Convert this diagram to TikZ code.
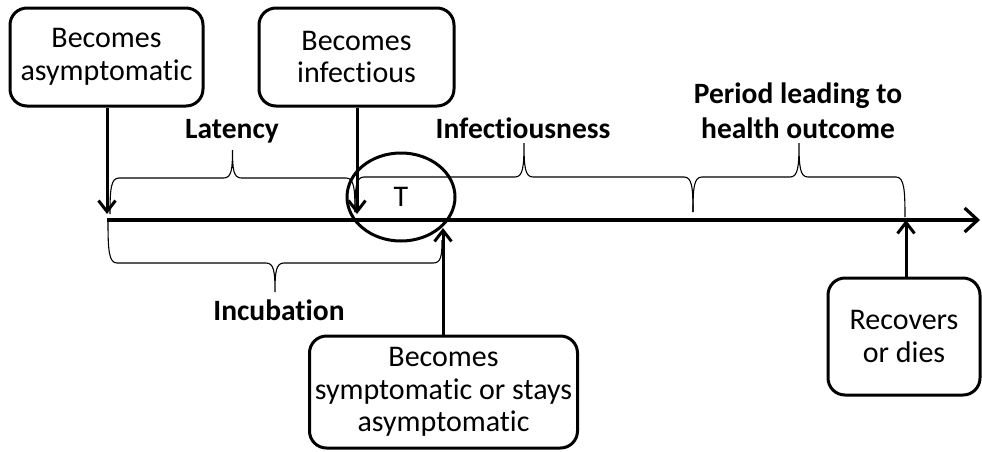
\documentclass[tikz,border=0pt]{standalone}
\usepackage{fontspec}
\setmainfont{Carlito}[RawFeature=-liga]
\usetikzlibrary{arrows.meta,shapes.geometric}

% curly brace: #1 x start, #2 x end, #3 y of the long stroke, #4 y of the tip,
% #5 y of the left end, #6 y of the right end
\newcommand\timebrace[6]{%
  \draw[brace]
    (#1,#5) .. controls (#1,{#3+0.3*(#5-#3)}) and ({#1+1},#3) .. ({#1+9},#3)
    -- ({(#1+#2)/2-9},#3)
    .. controls ({(#1+#2)/2-1},#3) and ({(#1+#2)/2},{#3+0.3*(#4-#3)}) .. ({(#1+#2)/2},#4)
    .. controls ({(#1+#2)/2},{#3+0.3*(#4-#3)}) and ({(#1+#2)/2+1},#3) .. ({(#1+#2)/2+9},#3)
    -- ({#2-9},#3)
    .. controls ({#2-1},#3) and (#2,{#3+0.3*(#6-#3)}) .. (#2,#6);}

\begin{document}
\begin{tikzpicture}[x=1pt,y=-1pt,
  box/.style={draw, line width=3pt, rounded corners=17pt, align=center,
    inner sep=0pt, font=\fontsize{30}{32.5}\selectfont},
  label/.style={font=\fontsize{29.5}{33}\selectfont\bfseries, align=center, inner sep=0pt},
  pointer/.style={line width=3pt, -{Straight Barb[length=11pt,width=17pt,line width=3pt]}},
  brace/.style={line width=1.1pt}]
\useasboundingbox (0,0) rectangle (982,451);

% event boxes
\node[box, minimum width=193pt, minimum height=98pt] (asym) at (106.5,57) {Becomes\\asymptomatic};
\node[box, minimum width=195pt, minimum height=98pt] (infec) at (356.5,57) {Becomes\\infectious};
\node[box, minimum width=268pt, minimum height=112pt] (symp) at (443.5,392) {Becomes\\symptomatic or stays\\asymptomatic};
\node[box, minimum width=152pt, minimum height=117pt] (recov) at (904,336.5) {Recovers\\or dies};

% time axis
\coordinate (t0) at (107,220);
\coordinate (tend) at (980,220);
\draw[line width=4.5pt, -{Straight Barb[length=13pt,width=24pt,line width=3.2pt]}] (t0) -- (tend);

% marker around the moment of transmission
\node[draw, ellipse, line width=3pt, minimum width=108pt, minimum height=88pt,
  font=\fontsize{30}{31}\selectfont] (trans) at (401,197) {T};

% events pointing at the axis
\coordinate (pA) at (107,214);
\coordinate (pB) at (357,214);
\coordinate (pC) at (443,228);
\coordinate (pD) at (906,220);
\draw[pointer] (asym.south -| pA) -- (pA);
\draw[pointer] (infec.south -| pB) -- (pB);
\draw[pointer] (symp.north -| pC) -- (pC);
\draw[pointer] (recov.north -| pD) -- (pD);

% periods
\timebrace{110}{355}{178}{150}{214}{212}
\timebrace{355}{693}{177}{143}{212}{212}
\timebrace{693}{905}{177}{143}{212}{217}
\timebrace{108}{442}{263}{292}{222}{240}

\node[label, anchor=base] (lat) at (232,138) {Latency};
\node[label, anchor=base] (inf) at (523,138) {Infectiousness};
\node[label, anchor=base] (per) at (798,103) {Period leading to};
\node[label, anchor=base] (per2) at (798,138) {health outcome};
\node[label, anchor=base] (inc) at (279,320) {Incubation};
\end{tikzpicture}
\end{document}
